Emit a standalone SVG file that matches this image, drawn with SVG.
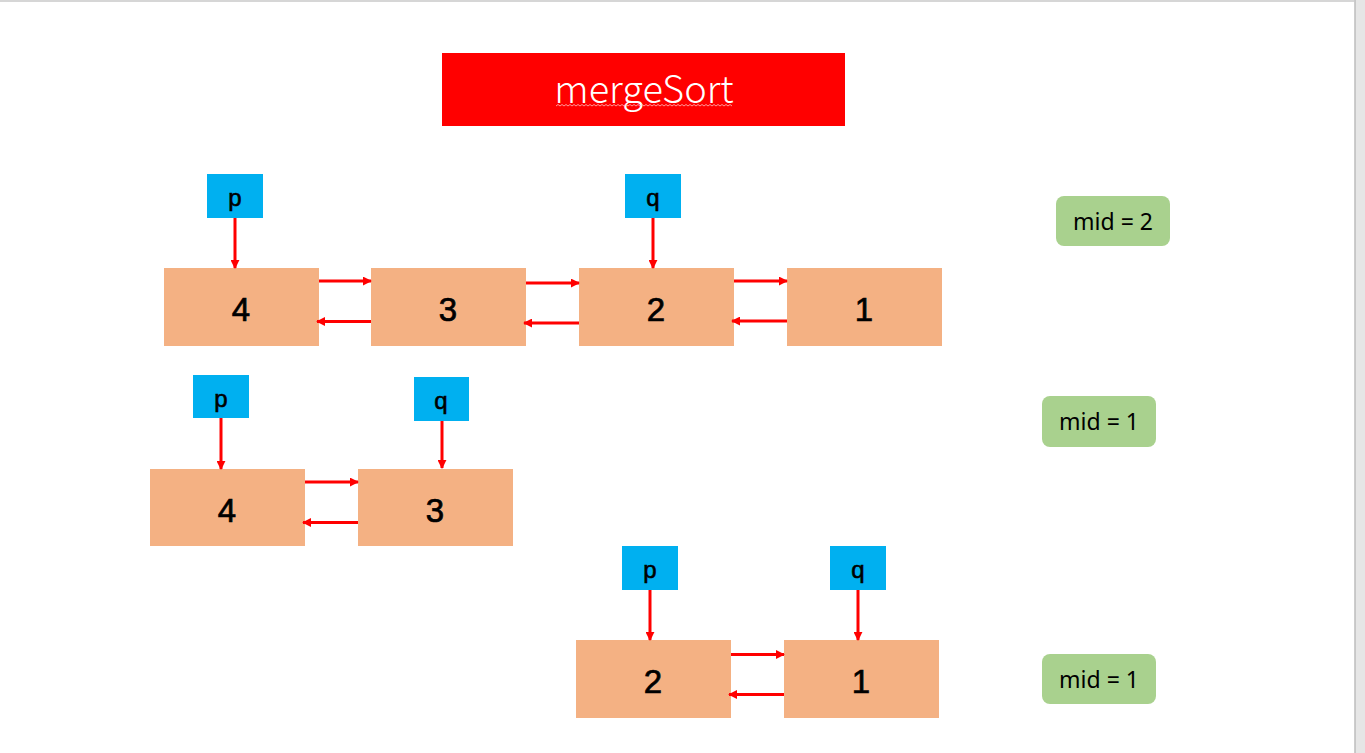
<svg xmlns="http://www.w3.org/2000/svg" width="1365" height="753" viewBox="0 0 1365 753">
<defs>
<style>
.node{fill:#F4B183}
.ptr{fill:#00B0F0}
.mid{fill:#A9D18E}
.num{font-family:"Liberation Sans",Arial,sans-serif;font-size:33px;fill:#000;stroke:#000;stroke-width:0.7;text-anchor:middle}
.pq{font-family:"Liberation Sans",Arial,sans-serif;font-size:24px;fill:#000;stroke:#000;stroke-width:0.6;text-anchor:middle}
.midt{font-family:"Noto Sans","Noto Sans CJK SC",sans-serif;font-size:23px;fill:#000;text-anchor:middle}
.title{font-family:"Noto Sans CJK SC","Noto Sans",sans-serif;font-weight:300;font-size:38px;fill:#fff;text-anchor:middle}
.conn line{stroke:#FF0000;stroke-width:3;marker-end:url(#ah)}
</style>
<marker id="ah" viewBox="0 0 10 10" refX="9" refY="5" markerUnits="userSpaceOnUse" markerWidth="9" markerHeight="9" orient="auto">
<path d="M0,0 L10,5 L0,10 z" fill="#FF0000"/>
</marker>
</defs>
<rect x="0" y="0" width="1365" height="753" fill="#ffffff"/>
<rect x="1355" y="0" width="10" height="753" fill="#e6e6e6"/>
<line x1="1355" y1="0" x2="1355" y2="753" stroke="#bdbdbd" stroke-width="1.5"/>
<line x1="0" y1="1" x2="1355" y2="1" stroke="#c8c8c8" stroke-width="1.5"/>

<g id="title">
<rect x="442" y="53" width="403" height="73" fill="#FF0000"/>
<text class="title" x="644" y="103">mergeSort</text>
<polyline points="556,106 558,104.5 560,106 562,104.5 564,106 566,104.5 568,106 570,104.5 572,106 574,104.5 576,106 578,104.5 580,106 582,104.5 584,106 586,104.5 588,106 590,104.5 592,106 594,104.5 596,106 598,104.5 600,106 602,104.5 604,106 606,104.5 608,106 610,104.5 612,106 614,104.5 616,106 618,104.5 620,106 622,104.5 624,106 626,104.5 628,106 630,104.5 632,106 634,104.5 636,106 638,104.5 640,106 642,104.5 644,106 646,104.5 648,106 650,104.5 652,106 654,104.5 656,106 658,104.5 660,106 662,104.5 664,106 666,104.5 668,106 670,104.5 672,106 674,104.5 676,106 678,104.5 680,106 682,104.5 684,106 686,104.5 688,106 690,104.5 692,106 694,104.5 696,106 698,104.5 700,106 702,104.5 704,106 706,104.5 708,106 710,104.5 712,106 714,104.5 716,106 718,104.5 720,106 722,104.5 724,106 726,104.5 728,106 730,104.5 732,106" fill="none" stroke="#ffc0c0" stroke-width="0.8"/>
</g>

<!-- Row 1 -->
<g id="r1p"><rect class="ptr" x="207" y="174" width="56" height="44"/><text class="pq" x="235" y="206">p</text></g>
<g id="r1q"><rect class="ptr" x="625" y="174" width="56" height="44"/><text class="pq" x="653" y="206">q</text></g>
<g id="r1n4"><rect class="node" x="164" y="268" width="155" height="78"/><text class="num" x="241" y="321">4</text></g>
<g id="r1n3"><rect class="node" x="371" y="268" width="155" height="78"/><text class="num" x="448" y="321">3</text></g>
<g id="r1n2"><rect class="node" x="579" y="268" width="155" height="78"/><text class="num" x="656" y="321">2</text></g>
<g id="r1n1"><rect class="node" x="787" y="268" width="155" height="78"/><text class="num" x="864" y="321">1</text></g>
<g id="r1mid"><rect class="mid" x="1056" y="196" width="114" height="50" rx="8"/><text class="midt" x="1113" y="230">mid = 2</text></g>

<!-- Row 2 -->
<g id="r2p"><rect class="ptr" x="193" y="375" width="56" height="43"/><text class="pq" x="221" y="407">p</text></g>
<g id="r2q"><rect class="ptr" x="414" y="377" width="55" height="44"/><text class="pq" x="441" y="409">q</text></g>
<g id="r2n4"><rect class="node" x="150" y="469" width="155" height="77"/><text class="num" x="227" y="522">4</text></g>
<g id="r2n3"><rect class="node" x="358" y="469" width="155" height="77"/><text class="num" x="435" y="522">3</text></g>
<g id="r2mid"><rect class="mid" x="1042" y="396" width="114" height="51" rx="8"/><text class="midt" x="1099" y="430">mid = 1</text></g>

<!-- Row 3 -->
<g id="r3p"><rect class="ptr" x="622" y="546" width="56" height="44"/><text class="pq" x="650" y="578">p</text></g>
<g id="r3q"><rect class="ptr" x="830" y="546" width="56" height="44"/><text class="pq" x="858" y="578">q</text></g>
<g id="r3n2"><rect class="node" x="576" y="640" width="155" height="78"/><text class="num" x="653" y="693">2</text></g>
<g id="r3n1"><rect class="node" x="784" y="640" width="155" height="78"/><text class="num" x="861" y="693">1</text></g>
<g id="r3mid"><rect class="mid" x="1042" y="654" width="114" height="50" rx="8"/><text class="midt" x="1099" y="688">mid = 1</text></g>

<g id="connectors" class="conn">
<line x1="235" y1="218" x2="235" y2="268"/>
<line x1="653" y1="218" x2="653" y2="268"/>
<line x1="319" y1="281" x2="371" y2="281"/>
<line x1="371" y1="321.5" x2="317" y2="321.5"/>
<line x1="526" y1="283" x2="579" y2="283"/>
<line x1="579" y1="323" x2="524" y2="323"/>
<line x1="734" y1="281" x2="787" y2="281"/>
<line x1="787" y1="321" x2="732" y2="321"/>

<line x1="221" y1="418" x2="221" y2="469"/>
<line x1="442" y1="421" x2="442" y2="468"/>
<line x1="305" y1="482" x2="358" y2="482"/>
<line x1="358" y1="522.5" x2="303" y2="522.5"/>

<line x1="650" y1="590" x2="650" y2="640"/>
<line x1="858" y1="590" x2="858" y2="640"/>
<line x1="731" y1="654.5" x2="784" y2="654.5"/>
<line x1="784" y1="694.5" x2="729" y2="694.5"/>
</g>
</svg>
